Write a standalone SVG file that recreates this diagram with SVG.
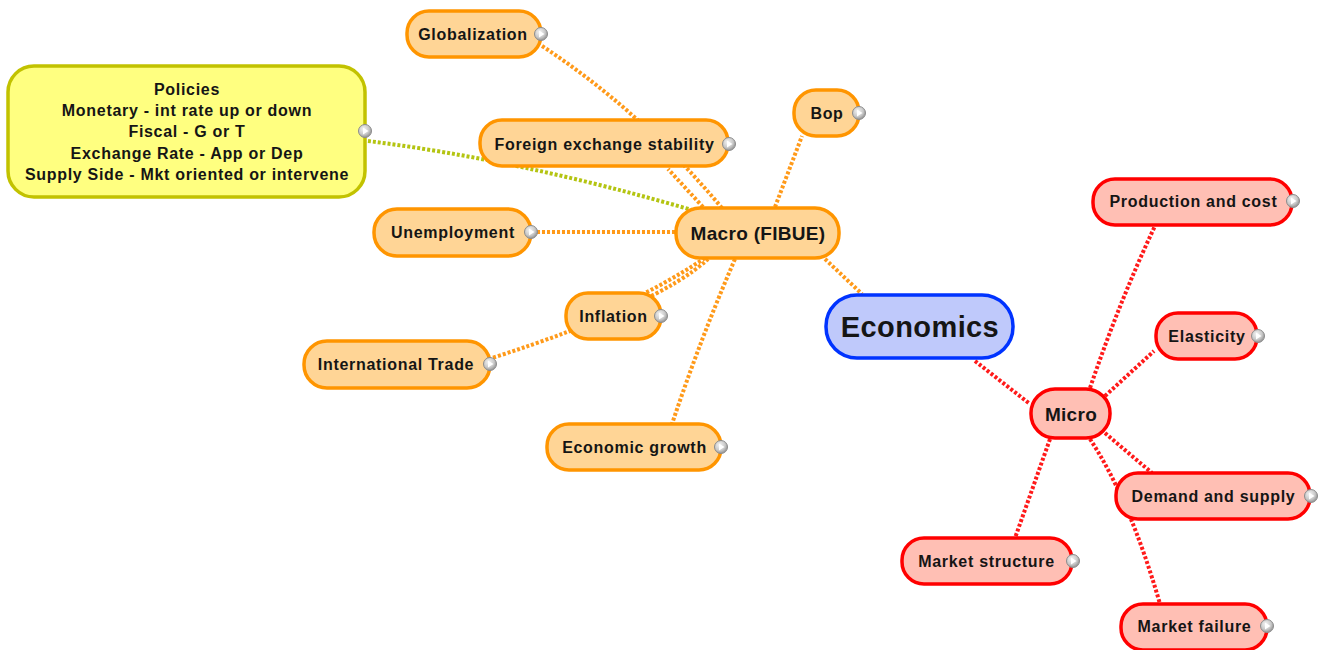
<svg xmlns="http://www.w3.org/2000/svg" width="1329" height="650" viewBox="0 0 1329 650">
<defs>
<radialGradient id="knobG" cx="0.4" cy="0.35" r="0.7">
<stop offset="0" stop-color="#f4f4f4"/>
<stop offset="0.6" stop-color="#c8c8c8"/>
<stop offset="1" stop-color="#8a8a8a"/>
</radialGradient>
<g id="knob">
<circle r="6.5" fill="url(#knobG)" stroke="#8c8c8c" stroke-width="1"/>
<polygon points="-2,-3.5 3.5,0 -2,3.5" fill="#ffffff"/>
</g>
</defs>
<style>
.c{fill:none;stroke-width:4;stroke-dasharray:3 2}
.co{stroke:#ff9a1a}
.cr{stroke:#ff1a1a}
.cy{stroke:#b4c412}
.no rect{fill:#ffd596;stroke:#ff9500;stroke-width:3.5}
.nr rect{fill:#ffbfb4;stroke:#ff0000;stroke-width:3.5}
.nb rect{fill:#bfc9fb;stroke:#0033ff;stroke-width:3.5}
.ny rect{fill:#ffff80;stroke:#c2c200;stroke-width:3.5}
text{font-family:"Liberation Sans",Arial,sans-serif;font-weight:bold;fill:#151515;text-anchor:middle}
.t{font-size:16px;letter-spacing:0.7px}
.tm{font-size:19px;letter-spacing:0.3px}
.tb{font-size:29px;letter-spacing:0.4px}
</style>
<rect width="1329" height="650" fill="#ffffff"/>
<g id="connectors">
<path class="c co" d="M722 208 Q640 110 542 46"/>
<path class="c co" d="M703 207 L668 169"/>
<path class="c co" d="M775 207 L802 136"/>
<path class="c cy" d="M368 141 Q520 160 692 210"/>
<path class="c co" d="M537 232 L676 232"/>
<path class="c co" d="M705 258 Q675 278 645 293"/>
<path class="c co" d="M708 259 Q660 304 492 358"/>
<path class="c co" d="M735 259 Q700 340 672 424"/>
<path class="c co" d="M825 259 L862 294"/>
<path class="c cr" d="M975 361 L1030 404"/>
<path class="c cr" d="M1090 388 Q1120 300 1155 226"/>
<path class="c cr" d="M1105 396 L1154 351"/>
<path class="c cr" d="M1105 433 L1152 473"/>
<path class="c cr" d="M1090 439 Q1130 500 1160 604"/>
<path class="c cr" d="M1050 439 L1015 538"/>
</g>
<g id="node-globalization" class="no">
<rect x="407" y="11" width="134" height="46" rx="22"/>
<text class="t" x="473" y="39.5">Globalization</text>
<use href="#knob" x="541" y="34"/>
</g>
<g id="node-policies" class="ny">
<rect x="8" y="66" width="357" height="131" rx="26"/>
<text class="t" x="187" y="94.5">Policies</text>
<text class="t" x="187" y="115.5">Monetary - int rate up or down</text>
<text class="t" x="187" y="136.5">Fiscal - G or T</text>
<text class="t" x="187" y="158.5">Exchange Rate - App or Dep</text>
<text class="t" x="187" y="179.5">Supply Side - Mkt oriented or intervene</text>
<use href="#knob" x="365" y="131"/>
</g>
<g id="node-fx" class="no">
<rect x="480" y="120" width="248" height="46" rx="22"/>
<text class="t" x="604.5" y="149.5">Foreign exchange stability</text>
<use href="#knob" x="729" y="144"/>
</g>
<g id="node-bop" class="no">
<rect x="794" y="90" width="65" height="46" rx="22"/>
<text class="t" x="827" y="119">Bop</text>
<use href="#knob" x="859" y="113"/>
</g>
<g id="node-macro" class="no">
<rect x="676" y="208" width="163" height="50" rx="24"/>
<text class="tm" x="758" y="240">Macro (FIBUE)</text>
</g>
<g id="node-unemployment" class="no">
<rect x="374" y="209" width="157" height="47" rx="23"/>
<text class="t" x="453" y="237.5">Unemployment</text>
<use href="#knob" x="531" y="232"/>
</g>
<g id="node-inflation" class="no">
<rect x="566" y="293" width="95" height="46" rx="22"/>
<text class="t" x="613.5" y="321.5">Inflation</text>
<use href="#knob" x="661" y="316"/>
</g>
<g id="node-trade" class="no">
<rect x="304" y="341" width="186" height="47" rx="23"/>
<text class="t" x="396" y="369.5">International Trade</text>
<use href="#knob" x="490" y="364"/>
</g>
<g id="node-growth" class="no">
<rect x="547" y="424" width="174" height="46" rx="22"/>
<text class="t" x="634.5" y="452.5">Economic growth</text>
<use href="#knob" x="721" y="447"/>
</g>
<g id="node-economics" class="nb">
<rect x="826" y="295" width="187" height="63" rx="31"/>
<text class="tb" x="920" y="337">Economics</text>
</g>
<g id="node-micro" class="nr">
<rect x="1031" y="389" width="79" height="49" rx="24"/>
<text class="tm" x="1071" y="420.5">Micro</text>
</g>
<g id="node-production" class="nr">
<rect x="1093" y="179" width="199" height="46" rx="22"/>
<text class="t" x="1193.5" y="207">Production and cost</text>
<use href="#knob" x="1293" y="201"/>
</g>
<g id="node-elasticity" class="nr">
<rect x="1156" y="313" width="101" height="46" rx="22"/>
<text class="t" x="1207" y="341.5">Elasticity</text>
<use href="#knob" x="1258" y="336"/>
</g>
<g id="node-demand" class="nr">
<rect x="1116" y="473" width="194" height="46" rx="22"/>
<text class="t" x="1213.5" y="501.5">Demand and supply</text>
<use href="#knob" x="1311" y="496"/>
</g>
<g id="node-structure" class="nr">
<rect x="902" y="538" width="170" height="46" rx="22"/>
<text class="t" x="986.5" y="566.5">Market structure</text>
<use href="#knob" x="1073" y="561"/>
</g>
<g id="node-failure" class="nr">
<rect x="1121" y="604" width="146" height="46" rx="22"/>
<text class="t" x="1194.5" y="632">Market failure</text>
<use href="#knob" x="1267" y="626"/>
</g>
</svg>
